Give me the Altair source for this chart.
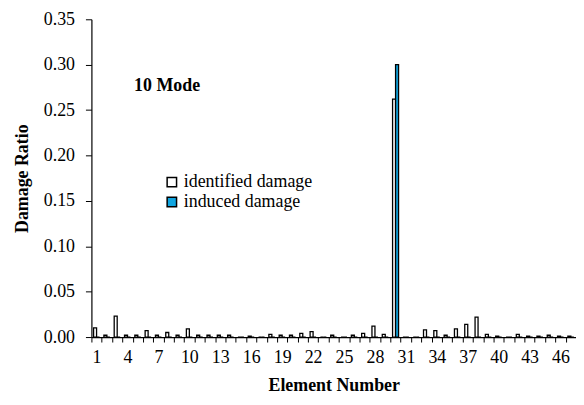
import altair as alt
import pandas as pd

elements = list(range(1, 48))
identified = [0.010, 0.002, 0.023, 0.002, 0.002, 0.007, 0.002, 0.005, 0.002, 0.009,
              0.002, 0.002, 0.002, 0.002, 0.000, 0.001, 0.000, 0.003, 0.002, 0.002,
              0.004, 0.006, 0.000, 0.002, 0.000, 0.002, 0.004, 0.012, 0.003, 0.262,
              0.000, 0.000, 0.008, 0.007, 0.002, 0.009, 0.014, 0.022, 0.003, 0.001,
              0.000, 0.003, 0.001, 0.001, 0.002, 0.001, 0.001]
induced = [0.0] * 47
induced[29] = 0.300

series_names = ["identified damage", "induced damage"]
series_colors = ["#ffffff", "#10a5e0"]

rows = []
for e, a, b in zip(elements, identified, induced):
    rows.append({"element": e, "series": series_names[0], "value": a})
    rows.append({"element": e, "series": series_names[1], "value": b})
df = pd.DataFrame(rows)

FONT = "Liberation Serif, Times New Roman, serif"
step = 488 / 47

bars = alt.Chart(df).mark_bar(stroke="black", strokeWidth=1.3).encode(
    x=alt.X("element:O",
            scale=alt.Scale(paddingInner=0.42, paddingOuter=0.21),
            axis=alt.Axis(title="Element Number", labelAngle=0,
                          labelExpr="(datum.value - 1) % 3 == 0 ? datum.label : ''",
                          tickOffset=-step / 2, labelOffset=step / 2,
                          tickSize=5, tickColor="black", domainColor="black",
                          domainWidth=1.2, tickWidth=1,
                          labelColor="black", labelPadding=7,
                          titleColor="black", titlePadding=10)),
    xOffset=alt.XOffset("series:N", scale=alt.Scale(domain=series_names)),
    y=alt.Y("value:Q",
            scale=alt.Scale(domain=[0, 0.35], nice=False),
            axis=alt.Axis(title="Damage Ratio", values=[0, 0.05, 0.1, 0.15, 0.2, 0.25, 0.3, 0.35],
                          format=".2f", grid=False, tickSize=6, tickColor="black",
                          domainColor="black", domainWidth=1.2, tickWidth=1,
                          labelColor="black", labelPadding=11,
                          titleColor="black", titlePadding=12)),
    color=alt.Color("series:N",
                    scale=alt.Scale(domain=series_names, range=series_colors),
                    legend=alt.Legend(title=None, orient="none", legendX=72, legendY=155,
                                      symbolType="square", symbolSize=90,
                                      symbolStrokeColor="black", symbolStrokeWidth=1.5,
                                      labelColor="black",
                                      labelOffset=3, rowPadding=2)),
)

mode_df = pd.DataFrame({"label": ["10 Mode"]})
mode_text = alt.Chart(mode_df).mark_text(
    fontSize=18, fontWeight="bold", align="left", baseline="alphabetic",
    color="black"
).encode(text="label:N", x=alt.value(43), y=alt.value(72))

chart = alt.layer(bars, mode_text).properties(
    width=488, height=320,
    autosize=alt.AutoSizeParams(type="none"),
    padding={"left": 84, "top": 10, "right": 0, "bottom": 60},
    background="white",
).configure(
    font=FONT,
).configure_view(
    stroke=None
).configure_axis(
    labelFont=FONT, labelFontSize=18, titleFont=FONT, titleFontSize=18,
    titleFontWeight="bold"
).configure_legend(
    labelFont=FONT, labelFontSize=18
).configure_text(
    font=FONT
)

chart.save("out.html", embed_options={"renderer": "svg", "actions": False})
